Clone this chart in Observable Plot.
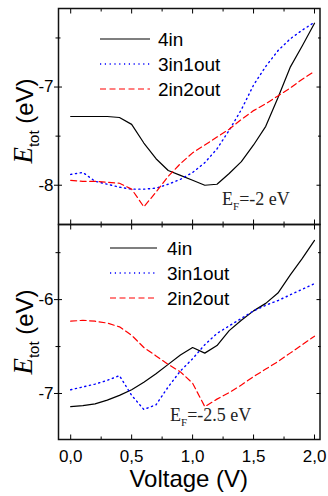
<!DOCTYPE html>
<html><head><meta charset="utf-8">
<script src="https://cdn.jsdelivr.net/npm/d3@7"></script>
<script src="https://cdn.jsdelivr.net/npm/@observablehq/plot@0.6"></script>
<style>
body{margin:0;background:#fff;}
#chart{width:328px;height:496px;position:relative;overflow:hidden;background:#fff;}
#chart svg{display:block;overflow:visible;}
</style></head><body><div id="chart"></div>
<script>
// ---- data ----
const voltage = [0,0.1,0.2,0.3,0.4,0.5,0.6,0.7,0.8,0.9,1.0,1.1,1.2,1.3,1.4,1.5,1.6,1.7,1.8,1.9,2.0];
const top4in     = [-7.30,-7.30,-7.30,-7.30,-7.31,-7.38,-7.57,-7.73,-7.85,-7.90,-7.95,-8.00,-7.99,-7.88,-7.76,-7.59,-7.40,-7.11,-6.80,-6.58,-6.35];
const top3in1out = [-7.89,-7.87,-7.96,-7.99,-8.02,-8.04,-8.04,-8.03,-7.99,-7.94,-7.87,-7.77,-7.63,-7.44,-7.23,-6.98,-6.79,-6.63,-6.51,-6.42,-6.34];
const top2in2out = [-7.95,-7.96,-7.96,-7.97,-7.98,-8.04,-8.22,-8.07,-7.91,-7.78,-7.67,-7.59,-7.51,-7.43,-7.33,-7.24,-7.17,-7.09,-7.01,-6.92,-6.84];
const bot4in     = [-7.14,-7.13,-7.11,-7.07,-7.02,-6.96,-6.88,-6.79,-6.69,-6.59,-6.51,-6.57,-6.49,-6.33,-6.22,-6.12,-6.04,-5.93,-5.74,-5.56,-5.37];
const bot3in1out = [-6.96,-6.93,-6.90,-6.86,-6.81,-7.02,-7.17,-7.12,-6.93,-6.76,-6.63,-6.48,-6.36,-6.28,-6.20,-6.12,-6.06,-6.01,-5.95,-5.89,-5.83];
const bot2in2out = [-6.23,-6.22,-6.23,-6.25,-6.29,-6.38,-6.51,-6.60,-6.69,-6.77,-6.89,-7.14,-7.06,-6.99,-6.91,-6.82,-6.74,-6.66,-6.57,-6.48,-6.39];

const seriesNames = ["4in","3in1out","2in2out"];
const xTicks = [0,0.5,1,1.5,2];
const xTickLabels = ["0,0","0,5","1,0","1,5","2,0"];
const xMinor = [0.25,0.75,1.25,1.75];
const topYTicks = [-8,-7];
const topYMinor = [-7.5,-6.5];
const botYTicks = [-7,-6];
const botYMinor = [-6.5,-5.5];
const topNote = "-2 eV";
const botNote = "-2.5 eV";
const xLabel = "Voltage (V)";

// ---- styles ----
const colors = ["#000000","#0000ff","#ff0000"];
const dashes = [null,"1.2,3.6","6,3.5"];
const widths = [1.2,1.4,1.2];
const W = 328, ML = 58, MR = 8.5;
const xDomain = [-0.1, 2.045];
const SANS = "'Liberation Sans', Arial, sans-serif";
const SERIF = "'Liberation Serif', 'Times New Roman', serif";

function rows(arrs){
  const out = [];
  arrs.forEach((arr,k)=>arr.forEach((e,i)=>out.push({v:voltage[i], e, s:seriesNames[k]})));
  return out;
}

function panel({arrs, yDomain, yTicks, yMinor, height, marginTop, marginBottom, labels}){
  const data = rows(arrs);
  const none = () => "";
  const marks = [
    Plot.frame({stroke:"#111", strokeWidth:1.5}),
    Plot.axisY({anchor:"left", ticks:yTicks, tickSize:4, tickPadding:1, tickFormat:d=>String(d), label:null, fontSize:17}),
    Plot.axisY({anchor:"left", ticks:yTicks, tickSize:-4, tickFormat:none, label:null}),
    Plot.axisY({anchor:"left", ticks:yMinor, tickSize:2.5, tickFormat:none, label:null}),
    Plot.axisY({anchor:"left", ticks:yMinor, tickSize:-2.5, tickFormat:none, label:null}),
    Plot.axisY({anchor:"right", ticks:yTicks, tickSize:-4, tickFormat:none, label:null}),
    Plot.axisY({anchor:"right", ticks:yMinor, tickSize:-2.5, tickFormat:none, label:null}),
    Plot.axisX({anchor:"top", ticks:xTicks, tickSize:-4.5, tickFormat:none, label:null}),
    Plot.axisX({anchor:"top", ticks:xMinor, tickSize:-2.5, tickFormat:none, label:null}),
    Plot.axisX({anchor:"bottom", ticks:xTicks, tickSize:-4.5, tickFormat:none, label:null}),
    Plot.axisX({anchor:"bottom", ticks:xMinor, tickSize:-2.5, tickFormat:none, label:null}),
  ];
  if (labels) marks.push(Plot.axisX({anchor:"bottom", ticks:xTicks, tickSize:0, tickPadding:10,
      tickFormat:d=>xTickLabels[xTicks.indexOf(d)], label:null, fontSize:17}));
  seriesNames.forEach((name,k)=>{
    marks.push(Plot.line(data.filter(d=>d.s===name), {x:"v", y:"e", stroke:colors[k],
      strokeWidth:widths[k], strokeDasharray:dashes[k], strokeLinejoin:"round"}));
  });
  return Plot.plot({
    width:W, height, marginLeft:ML, marginRight:MR, marginTop, marginBottom,
    x:{domain:xDomain}, y:{domain:yDomain},
    style:{fontFamily:SANS, fontSize:"17px", color:"#000", background:"transparent", overflow:"visible"},
    marks
  });
}

const topPanel = panel({arrs:[top4in,top3in1out,top2in2out], yDomain:[-8.40,-6.20], yTicks:topYTicks, yMinor:topYMinor,
  height:224, marginTop:8, marginBottom:0, labels:false});
const botPanel = panel({arrs:[bot4in,bot3in1out,bot2in2out], yDomain:[-7.49,-5.20], yTicks:botYTicks, yMinor:botYMinor,
  height:272, marginTop:0, marginBottom:57, labels:true});

const chart = document.getElementById("chart");
chart.appendChild(topPanel);
chart.appendChild(botPanel);

function decorate(svg, {legendX0, legendX1, legendTextX, legendY, noteX, noteY, note, ylabelY, xlabel}){
  const g = d3.select(svg).append("g").attr("text-anchor","start");
  seriesNames.forEach((name,k)=>{
    const y = legendY + k*25;
    g.append("line").attr("x1",legendX0).attr("x2",legendX1).attr("y1",y).attr("y2",y)
      .attr("stroke",colors[k]).attr("stroke-width",widths[k]).attr("stroke-dasharray",dashes[k]);
    g.append("text").attr("x",legendTextX).attr("y",y+7).attr("text-anchor","start").attr("font-family",SANS)
      .attr("font-size",19).attr("fill","#000").text(name);
  });
  const t = g.append("text").attr("x",noteX).attr("y",noteY).attr("text-anchor","start").attr("font-family",SERIF)
    .attr("font-size",18).attr("fill","#222");
  t.append("tspan").text("E");
  t.append("tspan").attr("font-size",11).attr("dy",5).text("F");
  t.append("tspan").attr("dy",-5).text("=" + note);
  const yl = g.append("text").attr("transform",`translate(33,${ylabelY}) rotate(-90)`).attr("text-anchor","middle")
    .attr("font-family",SANS).attr("font-size",24).attr("fill","#000");
  yl.append("tspan").attr("font-family",SERIF).attr("font-style","italic").attr("font-size",27).attr("dy",-1).text("E");
  yl.append("tspan").attr("font-size",15).attr("dy",7).text("tot");
  yl.append("tspan").attr("dy",-6).text("\u00a0(eV)");
  if (xlabel){
    g.append("text").attr("x",(ML + W - MR)/2).attr("y",263).attr("text-anchor","middle")
      .attr("font-family",SANS).attr("font-size",24).attr("fill","#000").text(xlabel);
  }
}
decorate(topPanel, {legendX0:100, legendX1:150, legendTextX:158, legendY:39, noteX:222, noteY:205, note:topNote, ylabelY:121});
decorate(botPanel, {legendX0:110, legendX1:157, legendTextX:167, legendY:24, noteX:170, noteY:197, note:botNote, ylabelY:108, xlabel:xLabel});
</script></body></html>
